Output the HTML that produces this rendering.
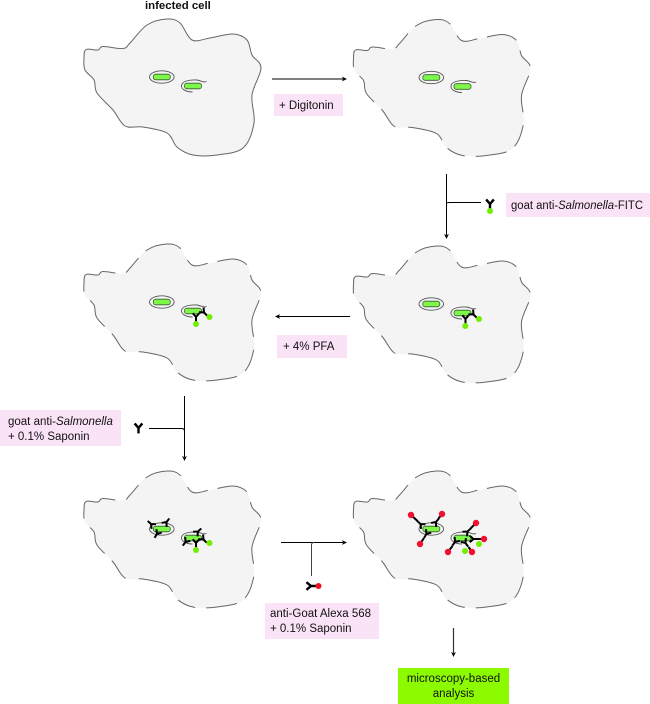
<!DOCTYPE html>
<html><head><meta charset="utf-8"><style>
html,body{margin:0;padding:0;background:#fff}
svg{display:block}
text{font-family:"Liberation Sans",sans-serif;font-size:11.5px;fill:#111}
</style></head><body>
<svg width="650" height="704" viewBox="0 0 650 704" xmlns="http://www.w3.org/2000/svg">
<defs>
<path id="outline" d="M86,49.5 C88.3,48.2 95.2,50.5 98,50 S98.8,46.75 103,46.5 S118.5,49.1 123,48.5 S126,46.9 130,43 S140.8,29 147,25 S161.5,19.3 167,19 S175.8,19.5 180,23 S187,37.5 192,40 S203.2,39 210,38 S226.8,33.7 233,34 S243.8,36.5 247,40 S249.7,50.3 252,55 S261,61.3 261,68 S253.2,85.8 252,95 S255.5,114.2 254,123 S249.2,142.7 243,148 S225.3,153.8 217,155 S199.7,156.3 193,155 S181.3,150.7 177,147 S172.7,136.3 167,133 S150,128.2 143,127 S130,128.8 125,126 S117.7,115.5 113,110 S100.2,98 97,93 S96,83.8 94,80 S86.7,73.7 85,70 S83.8,61.4 84,58 S83.7,50.8 86,49.5 Z"/>
<rect id="bac" x="-8.500" y="-2.800" width="17" height="5.600" rx="2.400" fill="#7df84a" stroke="#3a5a30" stroke-width=".8"/>
<g id="vac1"><ellipse cx="161.800" cy="77" rx="12.300" ry="6.200" fill="none" stroke="#555" stroke-width=".9"/><use href="#bac" x="161.800" y="77"/></g>
<g id="vac2"><path d="M192.500,92 C186,92 181,89 181.500,85.500 C182,81 190,79.500 197,80 C201,80.500 203,83 206.500,81.500" fill="none" stroke="#555" stroke-width=".9"/><use href="#bac" x="193" y="86"/></g>
<path id="y" d="M-3.200,-3.800 L0,0 L3.200,-3.800 M0,0 L0,4.500" fill="none" stroke="#000" stroke-width="2"/>
<g id="dash"><use href="#outline" fill="#f4f4f4" stroke="none"/><use href="#outline" fill="none" stroke="#666" stroke-width="1" stroke-dasharray="31 11 19 10 38 13 23 10"/></g>
<path id="ah" d="M0,0 L-5,-2.400 L-3.800,0 L-5,2.400 Z" fill="#000"/>
</defs>

<text x="145" y="9" style="font-weight:bold;font-size:11.400px">infected cell</text>

<!-- cell 1 -->
<use href="#outline" fill="#f4f4f4" stroke="#666" stroke-width="1"/>
<use href="#vac1"/><use href="#vac2"/>

<!-- cell 2 -->
<g transform="translate(269.500,0.500)"><use href="#dash"/><use href="#vac1"/><use href="#vac2"/></g>

<!-- cell 3 -->
<g transform="translate(269.500,227)"><use href="#dash"/><use href="#vac1"/><use href="#vac2"/>
<use href="#y" transform="translate(196,92)"/><circle cx="195.800" cy="99" r="3" fill="#70ee00"/>
<use href="#y" transform="translate(204,87.500) rotate(-45)"/><circle cx="209.500" cy="92" r="3" fill="#70ee00"/></g>

<!-- cell 4 -->
<g transform="translate(0,225)"><use href="#dash"/><use href="#vac1"/><use href="#vac2"/>
<use href="#y" transform="translate(196,92)"/><circle cx="196" cy="99" r="3" fill="#70ee00"/>
<use href="#y" transform="translate(204,87.500) rotate(-45)"/><circle cx="209.500" cy="92" r="3" fill="#70ee00"/></g>

<!-- cell 5 -->
<g transform="translate(0,452)"><use href="#dash"/><use href="#vac1"/><use href="#vac2"/>
<use href="#y" transform="translate(151,72) rotate(133)"/>
<use href="#y" transform="translate(166.500,70) rotate(-141)"/>
<use href="#y" transform="translate(157,82) rotate(33)"/>
<use href="#y" transform="translate(198,79.500) rotate(-133)"/>
<use href="#y" transform="translate(185.500,90) rotate(37)"/>
<use href="#y" transform="translate(196,91)"/><circle cx="196" cy="98" r="3" fill="#70ee00"/>
<use href="#y" transform="translate(203.500,87.500) rotate(-45)"/><circle cx="209.500" cy="91" r="3" fill="#70ee00"/></g>

<!-- cell 6 -->
<g transform="translate(269.500,452)"><use href="#dash"/><use href="#vac1"/><use href="#vac2"/>
<use href="#y" transform="translate(151,72) rotate(133)"/>
<use href="#y" transform="translate(166.500,70) rotate(-141)"/>
<use href="#y" transform="translate(157,82) rotate(33)"/>
<use href="#y" transform="translate(198,79.500) rotate(-133)"/>
<use href="#y" transform="translate(185.500,90) rotate(37)"/>
<use href="#y" transform="translate(196,91) rotate(-36)"/>
<use href="#y" transform="translate(204,87) rotate(-90)"/>
<path d="M148,69 L141.500,63 M169,66.500 L172.500,62 M154.500,86 L150.500,92 M201,76.500 L206.500,71 M208,87 L214.500,87 M199,95 L202.500,100 M183,94 L178.500,100" stroke="#000" stroke-width="2" fill="none"/>
<circle cx="141.500" cy="63" r="3.200" fill="#f01030"/><circle cx="172.500" cy="62" r="3.200" fill="#f01030"/><circle cx="150.500" cy="92" r="3.200" fill="#f01030"/>
<circle cx="206.500" cy="71" r="3.200" fill="#f01030"/><circle cx="214.500" cy="87" r="3.200" fill="#f01030"/><circle cx="202.500" cy="100" r="3.200" fill="#f01030"/><circle cx="178.500" cy="100" r="3.200" fill="#f01030"/>
<circle cx="195.500" cy="99" r="3" fill="#70ee00"/><circle cx="209.500" cy="92" r="3" fill="#70ee00"/></g>

<!-- arrows -->
<g stroke="#000" stroke-width="1" fill="none">
<path d="M272,79 H343"/>
<path d="M446.500,174 V235 M447,203 Q447.500,202.500 450,202.500 H481"/>
<path d="M350,316.500 H279"/>
<path d="M184.500,396 V457 M149,428.500 H182 Q184,428.500 184.500,431"/>
<path d="M281,542.500 H343"/>
<path d="M311.500,576 V545 Q311.500,542.500 314,542.500" stroke="#444"/>
<path d="M453.500,628 V653" stroke="#333" stroke-width="1.200"/>
</g>
<use href="#ah" transform="translate(347,79)"/>
<use href="#ah" transform="translate(446.500,239) rotate(90)"/>
<use href="#ah" transform="translate(275,316.500) rotate(180)"/>
<use href="#ah" transform="translate(184.500,461) rotate(90)"/>
<use href="#ah" transform="translate(347,542.500)"/>
<use href="#ah" transform="translate(453.500,657) rotate(90)"/>

<!-- free antibodies -->
<use href="#y" transform="translate(490,204) scale(1.200)"/><circle cx="490" cy="211" r="3" fill="#70ee00"/>
<use href="#y" transform="translate(138.500,428) scale(1.200)"/>
<use href="#y" transform="translate(311,586) rotate(-90) scale(1.200)"/><circle cx="318.500" cy="586" r="3" fill="#f01020"/>

<!-- labels -->
<rect x="274" y="94" width="69" height="22" fill="#fbe3f7"/>
<text x="279" y="109">+ Digitonin</text>
<rect x="506" y="193" width="144" height="24" fill="#fbe3f7"/>
<text x="511" y="209" textLength="132" lengthAdjust="spacingAndGlyphs">goat anti-<tspan font-style="italic">Salmonella</tspan>-FITC</text>
<rect x="277" y="335" width="70" height="23" fill="#fbe3f7"/>
<text x="283" y="350">+ 4% PFA</text>
<rect x="0" y="410" width="121" height="36" fill="#fbe3f7"/>
<text x="8" y="425">goat anti-<tspan font-style="italic">Salmonella</tspan></text>
<text x="8" y="440">+ 0.1% Saponin</text>
<rect x="265" y="603" width="114" height="36" fill="#fbe3f7"/>
<text x="270" y="617">anti-Goat Alexa 568</text>
<text x="270" y="632">+ 0.1% Saponin</text>
<rect x="398" y="668" width="111" height="36" fill="#8cfb00"/>
<text x="453.500" y="682" text-anchor="middle">microscopy-based</text>
<text x="453.500" y="697" text-anchor="middle">analysis</text>
</svg>
</body></html>
